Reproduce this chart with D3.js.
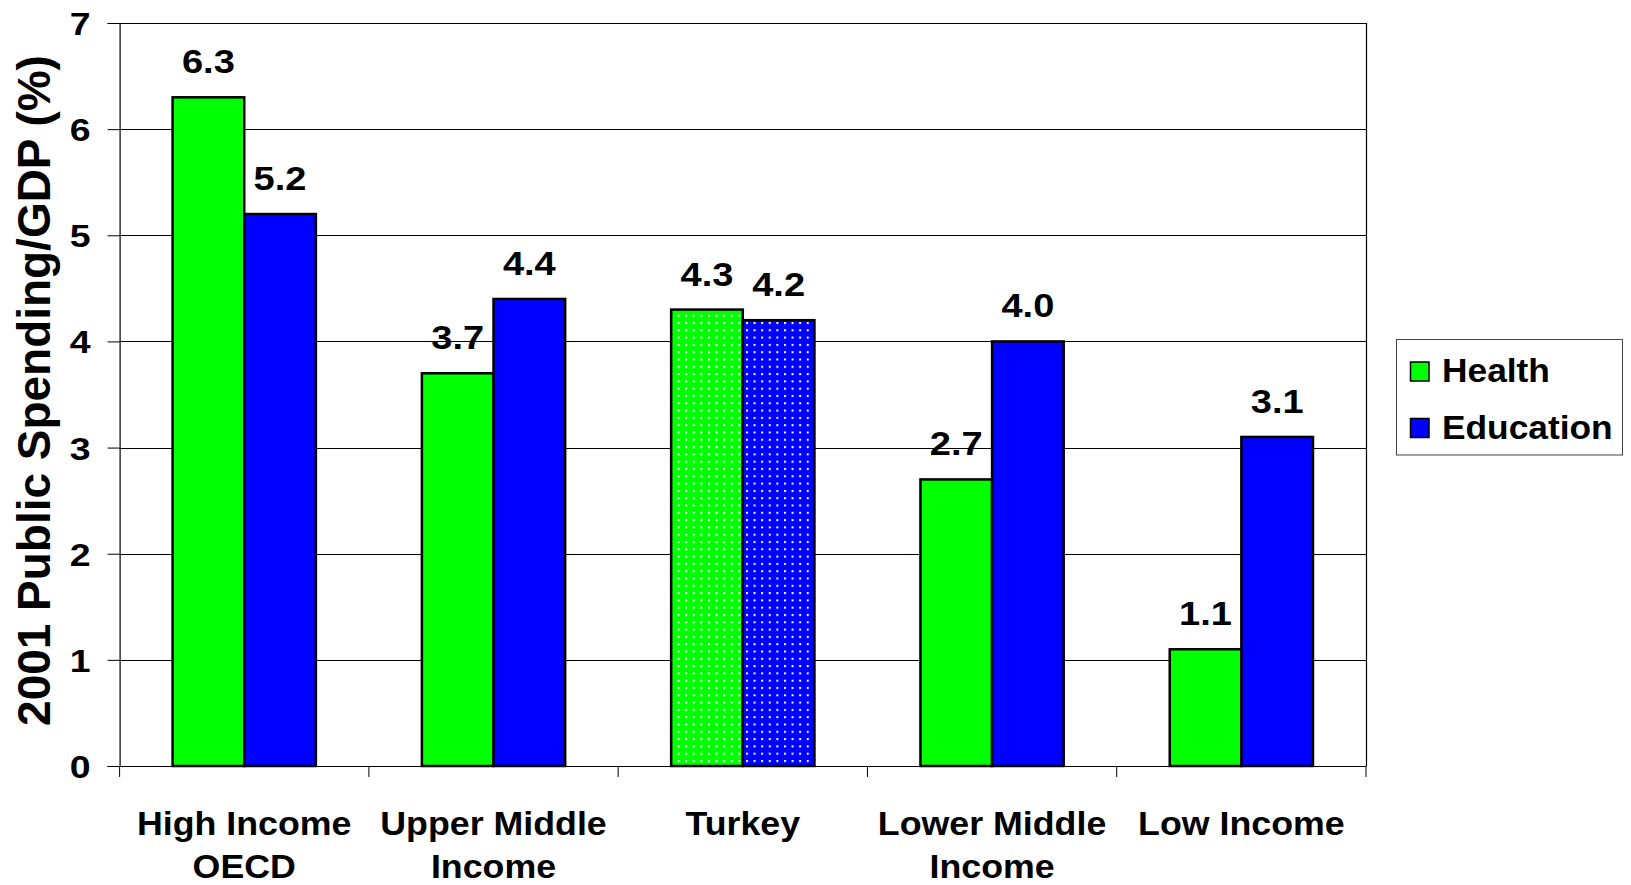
<!DOCTYPE html>
<html>
<head>
<meta charset="utf-8">
<script src="https://cdn.jsdelivr.net/npm/d3@7"></script>
<style>
  html, body { margin: 0; padding: 0; background: #fff; }
  svg { display: block; }
</style>
</head>
<body>
<svg id="chart" width="1631" height="885"></svg>
<script>
// ---- data ----
const categories = ["High Income OECD", "Upper Middle Income", "Turkey", "Lower Middle Income", "Low Income"];
const categoryLines = [["High Income", "OECD"], ["Upper Middle", "Income"], ["Turkey"], ["Lower Middle", "Income"], ["Low Income"]];
const seriesNames = ["Health", "Education"];
const healthValues = [6.3, 3.7, 4.3, 2.7, 1.1];
const educationValues = [5.2, 4.4, 4.2, 4.0, 3.1];
const yTicks = [0, 1, 2, 3, 4, 5, 6, 7];
const highlightedCategory = "Turkey";
const yTitle = "2001 Public Spending/GDP (%)";

const colors = { Health: "#00FF00", Education: "#0000FF" };
const seriesValues = { Health: healthValues, Education: educationValues };

const svg = d3.select("#chart");
const plot = { left: 119.6, right: 1366, top: 23, bottom: 766 };
const FONT = "'Liberation Sans', Arial, sans-serif";

// widen glyphs horizontally (reference text is horizontally stretched Arial)
function stretch(sel, factor) {
  sel.each(function () {
    const w = this.getComputedTextLength();
    d3.select(this).attr("textLength", w * factor).attr("lengthAdjust", "spacingAndGlyphs");
  });
}

const x0 = d3.scaleBand().domain(categories).range([plot.left, plot.right]).padding(0);
const x1 = d3.scaleBand().domain(seriesNames).range([0, x0.bandwidth()]).paddingInner(0).paddingOuter(0.74);
const y = d3.scaleLinear().domain([0, 7]).range([plot.bottom, plot.top]);

// patterns for highlighted bars
const defs = svg.append("defs");
seriesNames.forEach(s => {
  const p = defs.append("pattern")
    .attr("id", "dots-" + s)
    .attr("patternUnits", "userSpaceOnUse")
    .attr("width", 7.6).attr("height", 7.3)
    .attr("x", 675).attr("y", 322);
  p.append("rect").attr("width", 7.6).attr("height", 7.3).attr("fill", colors[s]);
  p.append("rect").attr("x", 0).attr("y", 0).attr("width", 2).attr("height", 2).attr("fill", "#ffffff");
});

// gridlines
svg.append("g").selectAll("line")
  .data(yTicks.filter(t => t > 0))
  .join("line")
  .attr("x1", plot.left).attr("x2", plot.right)
  .attr("y1", d => Math.round(y(d)) + 0.5).attr("y2", d => Math.round(y(d)) + 0.5)
  .attr("stroke", "#000").attr("stroke-width", 1);

// right border
svg.append("line")
  .attr("x1", plot.right + 0.5).attr("x2", plot.right + 0.5)
  .attr("y1", y(7)).attr("y2", plot.bottom)
  .attr("stroke", "#000").attr("stroke-width", 1.2);

// bars
const groups = svg.append("g").selectAll("g")
  .data(categories)
  .join("g")
  .attr("transform", d => `translate(${x0(d)},0)`);

groups.selectAll("rect")
  .data((c, i) => seriesNames.map(s => ({ c, s, v: seriesValues[s][i] })))
  .join("rect")
  .attr("x", d => x1(d.s))
  .attr("width", x1.bandwidth())
  .attr("y", d => y(d.v))
  .attr("height", d => y(0) - y(d.v))
  .attr("fill", d => d.c === highlightedCategory ? `url(#dots-${d.s})` : colors[d.s])
  .attr("stroke", "#000")
  .attr("stroke-width", 2.5);

// value labels
const valueLabels = groups.selectAll("text")
  .data((c, i) => seriesNames.map(s => ({ c, s, v: seriesValues[s][i] })))
  .join("text")
  .attr("x", d => x1(d.s) + x1.bandwidth() / 2)
  .attr("y", d => y(d.v) - 24)
  .attr("text-anchor", "middle")
  .attr("font-family", FONT)
  .attr("font-weight", "bold")
  .attr("font-size", 32.5)
  .attr("fill", "#000")
  .text(d => d3.format(".1f")(d.v));
stretch(valueLabels, 1.17);

// y axis
const yAxis = d3.axisLeft(y).tickValues(yTicks).tickSize(12).tickPadding(17).tickFormat(d3.format("d"));
const yg = svg.append("g").attr("transform", `translate(${plot.left},0)`).call(yAxis);
yg.select(".domain").attr("stroke", "#000").attr("stroke-width", 1.2);
yg.selectAll(".tick line").attr("stroke", "#000");
const yLabels = yg.selectAll(".tick text")
  .attr("font-family", FONT).attr("font-weight", "bold").attr("font-size", 32).attr("fill", "#000")
  .attr("dy", "0.36em");
stretch(yLabels, 1.17);

// x axis baseline + boundary ticks
svg.append("line")
  .attr("x1", plot.left - 12).attr("x2", plot.right)
  .attr("y1", plot.bottom + 0.5).attr("y2", plot.bottom + 0.5)
  .attr("stroke", "#000").attr("stroke-width", 1.2);
const boundaries = categories.map(c => x0(c)).concat([x0.range()[1]]);
svg.append("g").selectAll("line")
  .data(boundaries)
  .join("line")
  .attr("x1", d => d).attr("x2", d => d)
  .attr("y1", plot.bottom).attr("y2", plot.bottom + 11)
  .attr("stroke", "#000").attr("stroke-width", 1);

// category labels
const catText = svg.append("g").selectAll("text")
  .data(categories)
  .join("text")
  .attr("x", d => x0(d) + x0.bandwidth() / 2)
  .attr("y", 835)
  .attr("text-anchor", "middle")
  .attr("font-family", FONT).attr("font-weight", "bold").attr("font-size", 32.5).attr("fill", "#000")
  .each(function (d, i) {
    const t = d3.select(this);
    categoryLines[i].forEach((ln, j) => {
      t.append("tspan")
        .attr("x", x0(d) + x0.bandwidth() / 2)
        .attr("dy", j === 0 ? 0 : 43)
        .text(ln);
    });
  });
stretch(catText.selectAll("tspan"), 1.1);

// y title
svg.append("text")
  .attr("transform", "translate(49.5,390.5) rotate(-90)")
  .attr("text-anchor", "middle")
  .attr("font-family", FONT)
  .attr("font-weight", "bold").attr("font-size", 45.5).attr("fill", "#000")
  .text(yTitle)
  .call(sel => stretch(sel, 1.01));

// legend
const lg = svg.append("g");
lg.append("rect")
  .attr("x", 1396.5).attr("y", 339.5).attr("width", 226).attr("height", 115.5)
  .attr("fill", "#fff").attr("stroke", "#444").attr("stroke-width", 1);
seriesNames.forEach((s, i) => {
  const yy = 362 + i * 56.5;
  lg.append("rect")
    .attr("x", 1410.5).attr("y", yy).attr("width", 18.5).attr("height", 19)
    .attr("fill", colors[s]).attr("stroke", "#000").attr("stroke-width", 1.5);
  const t = lg.append("text")
    .attr("x", 1442).attr("y", yy + 20)
    .attr("font-family", FONT).attr("font-weight", "bold").attr("font-size", 33).attr("fill", "#000")
    .text(s);
  stretch(t, 1.07);
});
</script>
</body>
</html>
